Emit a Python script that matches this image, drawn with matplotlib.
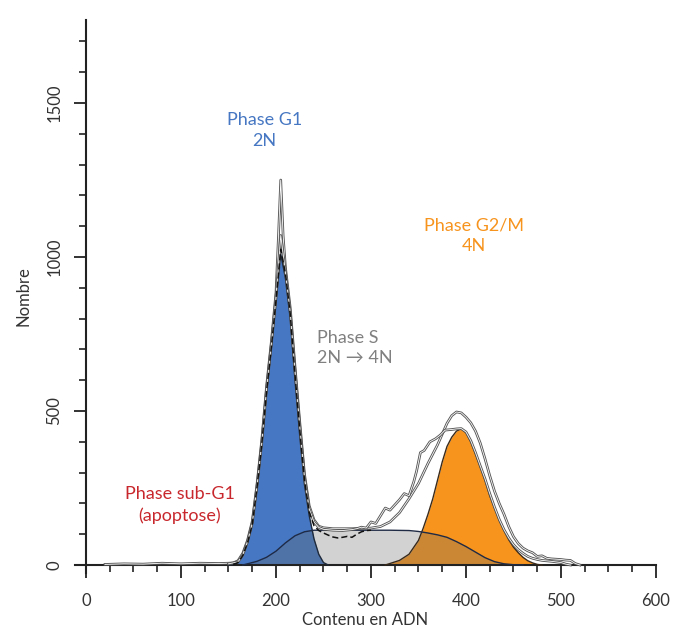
import matplotlib
matplotlib.use("Agg")
import matplotlib.pyplot as plt
from matplotlib.ticker import MultipleLocator

plt.rcParams['font.family'] = ['Lato', 'DejaVu Sans']

# ---- data ----
g1_x = [150, 155, 160, 165, 170, 175, 180, 185, 190, 195, 200, 205, 210, 215, 220, 225, 230, 235, 240, 245, 250, 255]
g1_y = [0, 2, 8, 30, 70, 130, 250, 390, 560, 700, 850, 1010, 930, 800, 600, 420, 260, 160, 85, 35, 8, 0]

s_x = [165, 170, 180, 190, 200, 210, 220, 230, 240, 250, 260, 280, 300, 320, 340, 350, 360, 370, 380, 390, 400, 410, 420, 430, 440, 450, 460]
s_y = [0, 4, 12, 25, 45, 72, 95, 108, 113, 113, 113, 113, 113, 113, 112, 109, 104, 98, 90, 76, 60, 42, 24, 11, 4, 1, 0]

g2_x = [315, 320, 330, 340, 350, 355, 360, 365, 370, 375, 380, 385, 390, 395, 400, 405, 410, 415, 420, 425, 430, 435, 440, 445, 450, 455, 460, 465, 470, 475, 480]
g2_y = [0, 5, 15, 35, 80, 120, 165, 215, 275, 335, 385, 415, 435, 442, 430, 400, 360, 318, 275, 225, 185, 145, 112, 82, 58, 40, 25, 14, 7, 2, 0]

outer_x = [20, 40, 60, 80, 100, 120, 140, 150, 155, 160, 165, 170, 175, 180, 185, 190, 195, 200, 202.5, 205, 207.5, 210, 215, 220, 225, 230, 235, 240, 245, 250, 260, 270, 280, 290, 300, 310, 320, 330, 340, 350, 360, 370, 380, 385, 390, 395, 400, 405, 410, 415, 420, 425, 430, 435, 440, 445, 450, 455, 460, 465, 470, 475, 480, 485, 490, 500, 505, 510, 515, 520]
outer_y = [2, 4, 3, 6, 4, 6, 5, 6, 7, 14, 38, 80, 142, 262, 405, 578, 722, 885, 1060, 1250, 1070, 965, 835, 645, 465, 295, 192, 147, 126, 121, 118, 118, 118, 119, 120, 125, 140, 170, 215, 265, 330, 390, 460, 485, 497, 494, 480, 462, 435, 396, 345, 290, 240, 200, 165, 125, 92, 70, 55, 46, 40, 28, 30, 22, 20, 18, 16, 15, 5, 0]

jag_x = [150, 160, 165, 170, 175, 180, 185, 190, 195, 200, 205, 210, 215, 220, 225, 230, 235, 240, 245, 250, 260, 270, 280, 285, 290, 295, 300, 305, 310, 315, 320, 325, 330, 335, 340, 345, 348, 352, 356, 362, 368, 373, 378, 385, 390, 395, 400, 405, 410, 415, 420, 425, 430, 435, 440, 445, 450, 455, 460, 465, 470, 475, 480, 490, 500, 505, 510]
jag_y = [4, 10, 33, 76, 136, 256, 396, 570, 714, 870, 1070, 950, 820, 632, 452, 284, 182, 140, 122, 116, 113, 112, 115, 118, 123, 120, 140, 135, 160, 185, 178, 195, 212, 232, 225, 270, 305, 365, 372, 400, 410, 422, 438, 440, 442, 443, 432, 404, 365, 322, 280, 232, 188, 148, 115, 88, 66, 50, 38, 28, 22, 18, 15, 12, 8, 3, 0]

dash_x = [155, 160, 165, 170, 175, 180, 185, 190, 195, 200, 205, 210, 215, 220, 225, 230, 235, 240, 245, 250, 255, 260, 265, 270, 275, 280, 285, 290, 295, 300]
dash_y = [2, 8, 31, 72, 132, 252, 392, 562, 705, 860, 1025, 945, 815, 618, 440, 276, 172, 128, 112, 104, 97, 91, 88, 90, 93, 90, 100, 108, 112, 113]

x_ticks = [0, 100, 200, 300, 400, 500, 600]
y_ticks = [0, 500, 1000, 1500]

# ---- figure ----
fig = plt.figure(figsize=(6.8, 6.38), dpi=100)
ax = fig.add_axes([0.1097, 0.1023, 0.855, 0.8666])
ax.set_xlim(-12, 600)
ax.set_ylim(-25, 1770)

blue = '#4677C2'
orange = '#F7941E'

ax.fill_between(g1_x, g1_y, color=blue, lw=0, zorder=1)
ax.fill_between(g2_x, g2_y, color=orange, lw=0, zorder=1)
ax.fill_between(s_x, s_y, color='#6a6a6a', alpha=0.30, lw=0, zorder=2)

ax.plot(g1_x, g1_y, color='#1f2a3a', lw=1.0, zorder=3)
ax.plot(g2_x, g2_y, color='#3a2a1a', lw=1.0, zorder=3)
ax.plot(s_x, s_y, color='#1f2a44', lw=1.0, zorder=3)

for cx, cy in [(outer_x, outer_y), (jag_x, jag_y)]:
    ax.plot(cx, cy, color='#555555', lw=1.9, zorder=4, solid_joinstyle='round')
    ax.plot(cx, cy, color='white', lw=0.6, zorder=4, solid_joinstyle='round')
ax.plot(dash_x, dash_y, color='#111111', lw=1.1, ls=(0, (4, 2)), zorder=5)

# axes styling
for s in ['top', 'right']:
    ax.spines[s].set_visible(False)
ax.spines['left'].set_position(('data', 0))
ax.spines['bottom'].set_position(('data', 0))
for s in ['left', 'bottom']:
    ax.spines[s].set_linewidth(1.5)
    ax.spines[s].set_color('#222222')

ax.set_xticks(x_ticks)
ax.set_yticks(y_ticks)
ax.xaxis.set_minor_locator(MultipleLocator(25))
ax.yaxis.set_minor_locator(MultipleLocator(100))
ax.tick_params(axis='both', which='major', direction='out', length=9, width=1.3, color='#222222',
               labelsize=12, labelcolor='#333333')
ax.tick_params(axis='both', which='minor', direction='out', length=5, width=1.2, color='#222222')
ax.tick_params(axis='x', which='major', pad=11)
ax.tick_params(axis='y', which='major', pad=8)
for lab in ax.get_yticklabels():
    lab.set_rotation(90)
    lab.set_va('center')

ax.set_xlabel('Contenu en ADN', fontsize=12, color='#333333', labelpad=2)
ax.set_ylabel('Nombre', fontsize=12, color='#333333', labelpad=11)

ax.text(188, 1410, 'Phase G1\n2N', color=blue, fontsize=13, ha='center', va='center', linespacing=1.35)
ax.text(408, 1070, 'Phase G2/M\n4N', color=orange, fontsize=13, ha='center', va='center', linespacing=1.35)
ax.text(243, 705, 'Phase S\n2N \u2192 4N', color='#808080', fontsize=13, ha='left', va='center', linespacing=1.35)
ax.text(99, 195, 'Phase sub-G1\n(apoptose)', color='#C8282D', fontsize=13, ha='center', va='center', linespacing=1.35)

fig.savefig('out.png', dpi=100)
